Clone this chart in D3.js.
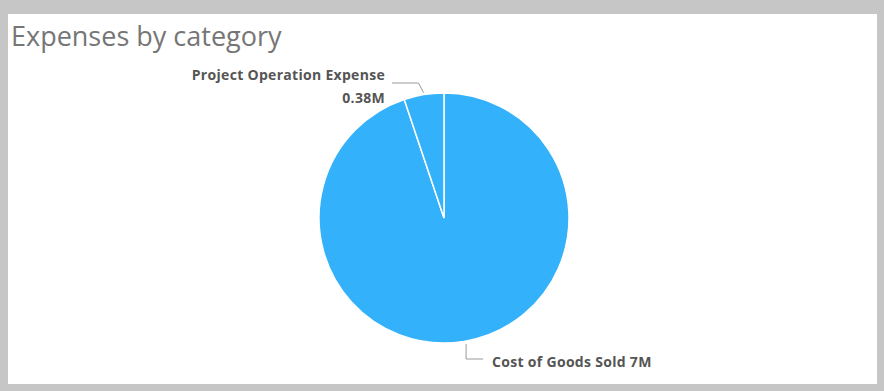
<!DOCTYPE html>
<html lang="en">
    <head>
        <meta charset="utf-8">
        <title>Expenses by category</title>
        <script src="https://d3js.org/d3.v7.min.js"></script>
        <style type="text/css">
            body { margin: 0; background: #c6c6c6; }
            .title {
                font-family: "Open Sans", sans-serif;
                font-size: 27px;
                fill: #767676;
            }
            .labels {
                font-family: "Open Sans", sans-serif;
                font-size: 14px;
                font-weight: bold;
                letter-spacing: 0.3px;
                fill: #555;
            }
        </style>
    </head>
    <body>
        <script type="text/javascript">
            // data
            const categories = ["Cost of Goods Sold", "Project Operation Expense"];
            const values = [7, 0.38];          // millions
            const valueLabels = ["7M", "0.38M"];

            const data = categories.map((c, i) => ({Type: c, Value: values[i], Label: valueLabels[i]}));

            //constants
            const w = 884;
            const h = 391;
            const cx = 444, cy = 218;
            const outerRadius = 125;

            const svg = d3.select("body")
                          .append("svg")
                          .attr("width", w)
                          .attr("height", h)
                          .style("display", "block");

            // panel
            svg.append("rect")
               .attr("width", w).attr("height", h)
               .attr("fill", "#c6c6c6");
            svg.append("rect")
               .attr("x", 8).attr("y", 14)
               .attr("width", 869).attr("height", 370)
               .attr("fill", "white");

            svg.append("text")
               .attr("class", "title")
               .attr("x", 11)
               .attr("y", 46)
               .text("Expenses by category");

            const arc = d3.arc().innerRadius(0).outerRadius(outerRadius);
            const pie = d3.pie().sort(null).value(d => d.Value);
            const arcs = pie(data);

            const g = svg.append("g")
                         .attr("transform", "translate(" + cx + "," + cy + ")");

            g.selectAll("path")
             .data(arcs)
             .enter()
             .append("path")
             .attr("fill", "#33b1fa")
             .attr("stroke", "white")
             .attr("stroke-width", 1.5)
             .attr("d", arc);

            // leader lines + labels
            const leader = "#9a9a9a";

            // Project Operation Expense (small slice, upper left)
            const small = arcs[1];
            const aS = (small.startAngle + small.endAngle) / 2;
            const pS = [Math.sin(aS) * (outerRadius + 2), -Math.cos(aS) * (outerRadius + 2)];
            svg.append("polyline")
               .attr("points", [[cx + pS[0], cy + pS[1]], [cx + pS[0] - 5, cy - 135], [cx - 52, cy - 135]].map(p => p.join(",")).join(" "))
               .attr("fill", "none")
               .attr("stroke", leader)
               .attr("stroke-width", 1);
            svg.append("text")
               .attr("class", "labels")
               .attr("x", cx - 59).attr("y", cy - 138)
               .attr("text-anchor", "end")
               .text(small.data.Type);
            svg.append("text")
               .attr("class", "labels")
               .attr("x", cx - 59).attr("y", cy - 115)
               .attr("text-anchor", "end")
               .text(small.data.Label);

            // Cost of Goods Sold (large slice, bottom)
            const big = arcs[0];
            const aB = 2.968;
            const pB = [Math.sin(aB) * (outerRadius + 3), -Math.cos(aB) * (outerRadius + 3)];
            svg.append("polyline")
               .attr("points", [[cx + pB[0], cy + pB[1]], [cx + pB[0], cy + 141], [cx + pB[0] + 17, cy + 141]].map(p => p.join(",")).join(" "))
               .attr("fill", "none")
               .attr("stroke", leader)
               .attr("stroke-width", 1);
            svg.append("text")
               .attr("class", "labels")
               .attr("x", cx + pB[0] + 26).attr("y", cy + 149)
               .text(big.data.Type + " " + big.data.Label);
        </script>
    </body>
</html>
